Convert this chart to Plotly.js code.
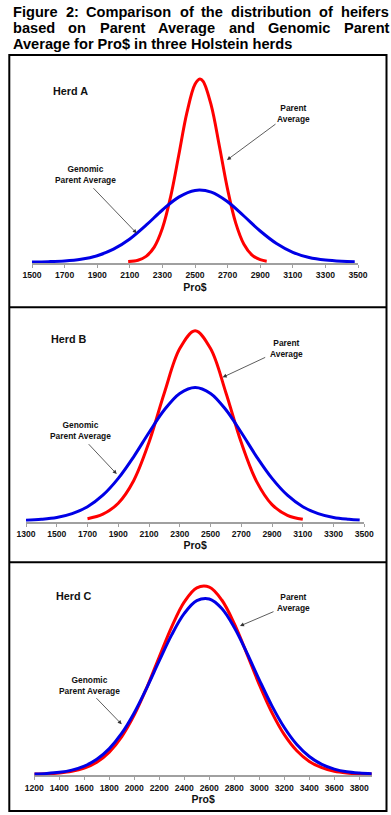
<!DOCTYPE html>
<html>
<head>
<meta charset="utf-8">
<script src="https://cdn.plot.ly/plotly-3.0.1.min.js"></script>
<style>
  html, body { margin: 0; padding: 0; background: #fff; }
  #chart { width: 391px; height: 815px; }
</style>
</head>
<body>
<div id="chart"></div>
<script>
// ---------------- DATA ----------------
const titleLine1 = ['Figure', '2:', 'Comparison', 'of', 'the', 'distribution', 'of', 'heifers'];
const titleLine2 = ['based', 'on', 'Parent', 'Average', 'and', 'Genomic', 'Parent'];
const titleLine3 = 'Average for Pro$ in three Holstein herds';

const herdNames = ['Herd A', 'Herd B', 'Herd C'];
const seriesPA = 'Parent Average';
const seriesGPA = 'Genomic Parent Average';
const xTitle = 'Pro$';

// Herd A
const herdA_x_PA = [2090, 2150, 2200, 2250, 2300, 2350, 2400, 2450, 2500, 2530, 2550, 2600, 2650, 2700, 2750, 2800, 2850, 2900, 2940];
const herdA_y_PA = [0.4, 1.8, 5.6, 14.9, 33.7, 64.9, 106.5, 149.1, 177.8, 183, 180.7, 156.4, 115.5, 72.6, 38.9, 17.8, 6.9, 2.3, 0.8];
const herdA_x_GPA = [1500, 1600, 1700, 1800, 1900, 2000, 2100, 2200, 2300, 2400, 2500, 2600, 2700, 2800, 2900, 3000, 3100, 3200, 3300, 3400, 3480];
const herdA_y_GPA = [0.1, 0.35, 1.0, 2.7, 6.3, 12.8, 23.0, 36.8, 52.0, 64.9, 71.6, 69.9, 60.3, 46.0, 31.0, 18.5, 9.7, 4.5, 1.9, 0.7, 0.3];
const herdA_ticks = [1500, 1700, 1900, 2100, 2300, 2500, 2700, 2900, 3100, 3300, 3500];

// Herd B
const herdB_x_PA = [1700, 1800, 1900, 2000, 2100, 2200, 2300, 2400, 2500, 2600, 2700, 2800, 2900, 3000, 3100];
const herdB_y_PA = [2.0, 6.5, 17.5, 40.0, 78.5, 128.0, 172.1, 190, 172.1, 128.0, 78.1, 39.1, 16.1, 5.4, 1.5];
const herdB_x_GPA = [1300, 1400, 1500, 1600, 1700, 1800, 1900, 2000, 2100, 2200, 2300, 2400, 2500, 2600, 2700, 2800, 2900, 3000, 3100, 3200, 3300, 3400, 3470];
const herdB_y_GPA = [0.5, 1.4, 3.2, 7.1, 14.0, 25.5, 42.3, 63.9, 88.2, 110.9, 127.3, 133.3, 127.3, 110.9, 88.2, 63.9, 42.3, 25.5, 14.0, 7.1, 3.2, 1.4, 0.6];
const herdB_ticks = [1300, 1500, 1700, 1900, 2100, 2300, 2500, 2700, 2900, 3100, 3300, 3500];

// Herd C
const herdC_x = [1200, 1300, 1400, 1500, 1600, 1700, 1800, 1900, 2000, 2100, 2200, 2300, 2400, 2500, 2600, 2700, 2800, 2900, 3000, 3100, 3200, 3300, 3400, 3500, 3600, 3700, 3800, 3900];
const herdC_y_PA = [0.2, 0.5, 1.3, 2.9, 6.2, 12.1, 22.2, 37.7, 59.4, 86.7, 117.5, 147.7, 172.4, 186.5, 187.2, 174.3, 150.6, 120.7, 89.7, 61.9, 39.6, 23.5, 12.9, 6.6, 3.1, 1.4, 0.6, 0.2];
const herdC_y_GPA = [0.4, 0.9, 2.0, 4.2, 8.2, 15.0, 25.7, 41.1, 61.6, 86.5, 113.6, 139.7, 160.9, 173.6, 175.3, 165.8, 146.8, 121.7, 94.5, 68.7, 46.8, 29.8, 17.8, 9.9, 5.2, 2.5, 1.2, 0.5];
const herdC_ticks = [1200, 1400, 1600, 1800, 2000, 2200, 2400, 2600, 2800, 3000, 3200, 3400, 3600, 3800];

// ---------------- LAYOUT HELPERS ----------------
const W = 391, H = 815;
const px = x => x / W;
const py = y => 1 - y / H;
const FONT = 'Liberation Sans, Arial, Helvetica, sans-serif';
const RED = '#FF0000';
const BLUE = '#0000E6';
const AXISGREY = '#A0A0A0';

function line(x, y, color, xa, ya, name) {
  return { x: x, y: y, type: 'scatter', mode: 'lines', name: name,
    line: { color: color, width: 3, shape: 'spline', smoothing: 1 },
    xaxis: xa, yaxis: ya, hoverinfo: 'skip' };
}

const data = [
  line(herdA_x_PA, herdA_y_PA, RED, 'x', 'y', seriesPA),
  line(herdA_x_GPA, herdA_y_GPA, BLUE, 'x', 'y', seriesGPA),
  line(herdB_x_PA, herdB_y_PA, RED, 'x2', 'y2', seriesPA),
  line(herdB_x_GPA, herdB_y_GPA, BLUE, 'x2', 'y2', seriesGPA),
  line(herdC_x, herdC_y_PA, RED, 'x3', 'y3', seriesPA),
  line(herdC_x, herdC_y_GPA, BLUE, 'x3', 'y3', seriesGPA)
];

function xaxis(range, domL, domR, ticks, anchor) {
  return {
    range: range, domain: [px(domL), px(domR)], anchor: anchor,
    showline: true, linecolor: AXISGREY, linewidth: 2,
    showgrid: false, zeroline: false,
    ticks: 'outside', ticklen: 3, tickwidth: 1, tickcolor: AXISGREY,
    tickmode: 'array', tickvals: ticks, ticktext: ticks.map(String),
    tickfont: { family: FONT, size: 8.6, color: '#111', weight: 'bold' },
    title: { text: xTitle, font: { family: FONT, size: 10.5, color: '#111', weight: 'bold' }, standoff: 4 },
    layer: 'below traces', fixedrange: true, automargin: false
  };
}
function yaxis(axisPx, anchor) {
  return {
    range: [-1, 200], domain: [py(axisPx + 1), py(axisPx - 200)], anchor: anchor,
    visible: false, showgrid: false, zeroline: false, fixedrange: true
  };
}

// justified title words
function justify(words, left, right, yc, size) {
  const ctx = document.createElement('canvas').getContext('2d');
  ctx.font = 'bold ' + size + 'px "Liberation Sans", Arial, sans-serif';
  const ws = words.map(w => ctx.measureText(w).width);
  const total = ws.reduce((a, b) => a + b, 0);
  const gap = (right - left - total) / (words.length - 1);
  let x = left;
  return words.map((w, i) => {
    const a = { text: w, x: px(x - 1), y: py(yc), xref: 'paper', yref: 'paper',
      xanchor: 'left', yanchor: 'middle', showarrow: false,
      font: { family: FONT, size: size, color: '#000', weight: 'bold' } };
    x += ws[i] + gap;
    return a;
  });
}

const TSIZE = 14.6;
let annotations = [];
annotations = annotations.concat(justify(titleLine1, 12, 388, 11.5, TSIZE));
annotations = annotations.concat(justify(titleLine2, 12, 388, 27.5, TSIZE));
annotations.push({ text: titleLine3, x: px(11), y: py(43.5), xref: 'paper', yref: 'paper',
  xanchor: 'left', yanchor: 'middle', showarrow: false,
  font: { family: FONT, size: TSIZE, color: '#000', weight: 'bold' } });

function label(text, x, y, size, xanchor) {
  return { text: text, x: px(x), y: py(y), xref: 'paper', yref: 'paper',
    xanchor: xanchor || 'center', yanchor: 'middle', showarrow: false, align: 'center',
    font: { family: FONT, size: size, color: '#111', weight: 'bold' } };
}
function arrow(tailX, tailY, tipX, tipY) {
  return { text: '', x: px(tipX), y: py(tipY), xref: 'paper', yref: 'paper',
    ax: tailX - tipX, ay: tailY - tipY, showarrow: true,
    arrowhead: 2, arrowsize: 1, arrowwidth: 0.8, arrowcolor: '#333', standoff: 0, startstandoff: 0 };
}

const paLbl = 'Parent<br>Average';
const gpaLbl = 'Genomic<br>Parent Average';
// Herd A
annotations.push(label(herdNames[0], 51, 90.7, 10.8, 'left'));
annotations.push(label(paLbl, 293, 114, 8.4));
annotations.push(label(gpaLbl, 85, 175, 8.4));
annotations.push(arrow(277, 123, 227, 160));
annotations.push(arrow(92, 186.7, 136.7, 233.3));
// Herd B
annotations.push(label(herdNames[1], 49, 339, 10.8, 'left'));
annotations.push(label(paLbl, 286, 348.3, 8.4));
annotations.push(label(gpaLbl, 80.7, 430.5, 8.4));
annotations.push(arrow(266.7, 356.7, 222.7, 377.3));
annotations.push(arrow(87.3, 442.7, 116.7, 474));
// Herd C
annotations.push(label(herdNames[2], 54, 596, 10.8, 'left'));
annotations.push(label(paLbl, 293.3, 602.7, 8.4));
annotations.push(label(gpaLbl, 89.3, 685, 8.4));
annotations.push(arrow(275, 611, 240, 626));
annotations.push(arrow(95, 696.7, 121.7, 724.3));

const L = 9.3, R = 386.5, T = 55, B = 811;
const shapes = [
  { type: 'rect', xref: 'paper', yref: 'paper', x0: px(L), x1: px(R), y0: py(B), y1: py(T), line: { color: '#000', width: 2 } },
  { type: 'line', xref: 'paper', yref: 'paper', x0: px(L), x1: px(R), y0: py(307.3), y1: py(307.3), line: { color: '#000', width: 2 } },
  { type: 'line', xref: 'paper', yref: 'paper', x0: px(L), x1: px(R), y0: py(562.3), y1: py(562.3), line: { color: '#000', width: 2 } }
];

const layout = {
  width: W, height: H,
  margin: { l: 0, r: 0, t: 0, b: 0, pad: 0 },
  paper_bgcolor: '#fff', plot_bgcolor: 'rgba(0,0,0,0)',
  showlegend: false,
  font: { family: FONT },
  xaxis: xaxis([1500, 3500], 32, 358, herdA_ticks, 'y'),
  yaxis: yaxis(262, 'x'),
  xaxis2: xaxis([1300, 3500], 26, 364.3, herdB_ticks, 'y2'),
  yaxis2: yaxis(520.7, 'x2'),
  xaxis3: xaxis([1200, 3900], 34.3, 371.8, herdC_ticks, 'y3'),
  yaxis3: yaxis(774.3, 'x3'),
  annotations: annotations,
  shapes: shapes
};

Plotly.newPlot('chart', data, layout, { displayModeBar: false, staticPlot: true });
</script>
</body>
</html>
